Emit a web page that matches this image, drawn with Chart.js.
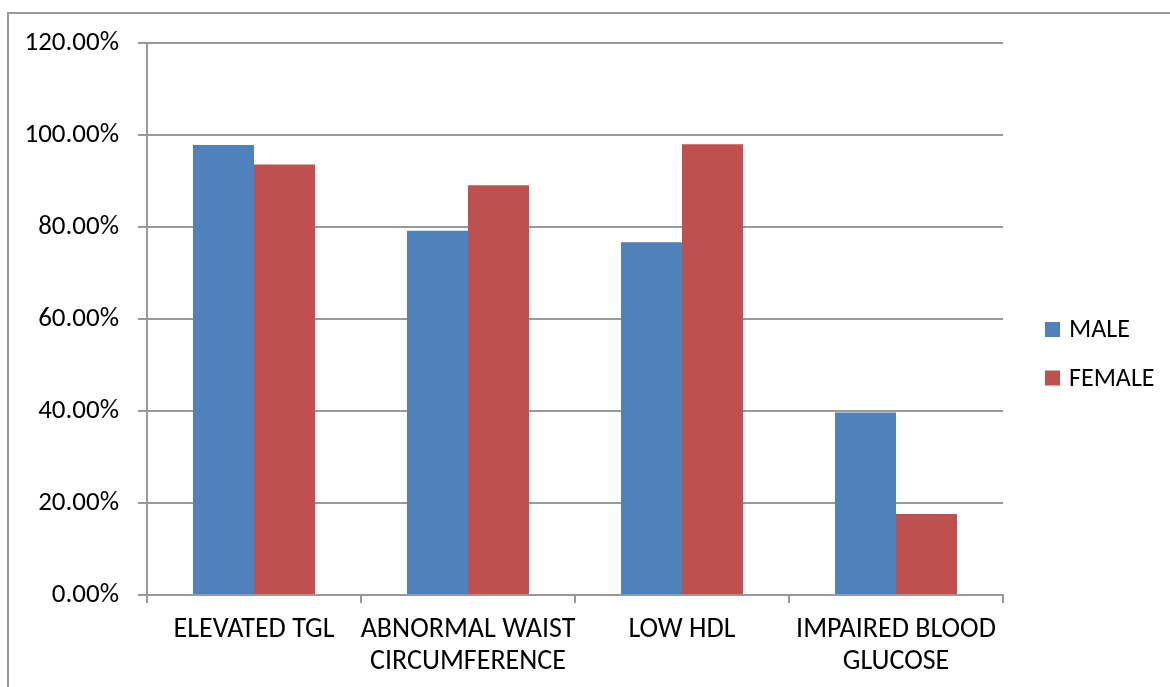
<!DOCTYPE html>
<html>
<head>
<meta charset="utf-8">
<title>Metabolic risk factors by sex</title>
<script src="https://cdn.jsdelivr.net/npm/chart.js@4/dist/chart.umd.min.js"></script>
<style>
  html, body { margin: 0; padding: 0; background: #ffffff; }
  #wrap { position: relative; width: 1170px; height: 687px; }
</style>
</head>
<body>
<div id="wrap"><canvas id="chart" width="1170" height="687"></canvas></div>
<script>
// Categories (two-line labels) and the share of each group, in percent
const categories = [
  ['ELEVATED TGL'],
  ['ABNORMAL WAIST', 'CIRCUMFERENCE'],
  ['LOW HDL'],
  ['IMPAIRED BLOOD', 'GLUCOSE']
];
const seriesNames = ['MALE', 'FEMALE'];
const maleValues = [97.8, 79.2, 76.7, 39.7];
const femaleValues = [93.6, 89.1, 98.0, 17.6];
const yTicks = [0, 20, 40, 60, 80, 100, 120];

const FONT = "Carlito, Calibri, Lato, 'Liberation Sans', sans-serif";
const TEXT = '#000000';
const GRID = '#9a9a9a';
const COLORS = ['#4F81BD', '#C0504D'];

// Frame around the whole chart plus a hand-placed legend at the right
const framePlugin = {
  id: 'frameAndLegend',
  beforeDraw(chart) {
    const ctx = chart.ctx;
    ctx.save();
    ctx.fillStyle = '#ffffff';
    ctx.fillRect(0, 0, chart.width, chart.height);
    ctx.strokeStyle = GRID;
    ctx.lineWidth = 2;
    ctx.beginPath();
    ctx.moveTo(8, chart.height + 2);
    ctx.lineTo(8, 13);
    ctx.lineTo(chart.width + 2, 13);
    ctx.stroke();
    ctx.restore();
  },
  afterDraw(chart) {
    const ctx = chart.ctx;
    ctx.save();
    ctx.font = '26px ' + FONT;
    ctx.textBaseline = 'middle';
    ctx.textAlign = 'left';
    const rows = [329.5, 378];
    chart.data.datasets.forEach((ds, i) => {
      const y = rows[i];
      ctx.fillStyle = ds.backgroundColor;
      ctx.fillRect(1045, y - 7.5, 15, 15);
      ctx.fillStyle = TEXT;
      ctx.fillText(ds.label, 1069, y + 1);
    });
    ctx.restore();
  }
};

new Chart(document.getElementById('chart'), {
  type: 'bar',
  data: {
    labels: categories,
    datasets: [
      { label: seriesNames[0], data: maleValues, backgroundColor: COLORS[0] },
      { label: seriesNames[1], data: femaleValues, backgroundColor: COLORS[1] }
    ]
  },
  plugins: [framePlugin],
  options: {
    responsive: false,
    animation: false,
    devicePixelRatio: 1,
    layout: { padding: { top: 43, right: 167, left: 0, bottom: 0 } },
    datasets: { bar: { categoryPercentage: 0.57, barPercentage: 1.0 } },
    plugins: { legend: { display: false }, tooltip: { enabled: false } },
    scales: {
      x: {
        grid: {
          offset: true,
          drawOnChartArea: false,
          drawTicks: true,
          tickLength: 8,
          color: GRID,
          lineWidth: 2
        },
        border: { display: true, color: GRID, width: 2 },
        ticks: {
          color: TEXT,
          font: { family: FONT, size: 28, lineHeight: 1.15 },
          padding: 11,
          maxRotation: 0,
          autoSkip: false
        },
        afterFit(scale) { scale.height = 92; }
      },
      y: {
        min: 0,
        max: 120,
        afterBuildTicks(scale) { scale.ticks = yTicks.map(v => ({ value: v })); },
        grid: {
          drawTicks: true,
          tickLength: 9,
          color: GRID,
          lineWidth: 2
        },
        border: { display: true, color: GRID, width: 2 },
        ticks: {
          color: TEXT,
          font: { family: FONT, size: 27 },
          padding: 19,
          callback: v => v.toFixed(2) + '%'
        },
        afterFit(scale) { scale.width = 147; }
      }
    }
  }
});
</script>
</body>
</html>
